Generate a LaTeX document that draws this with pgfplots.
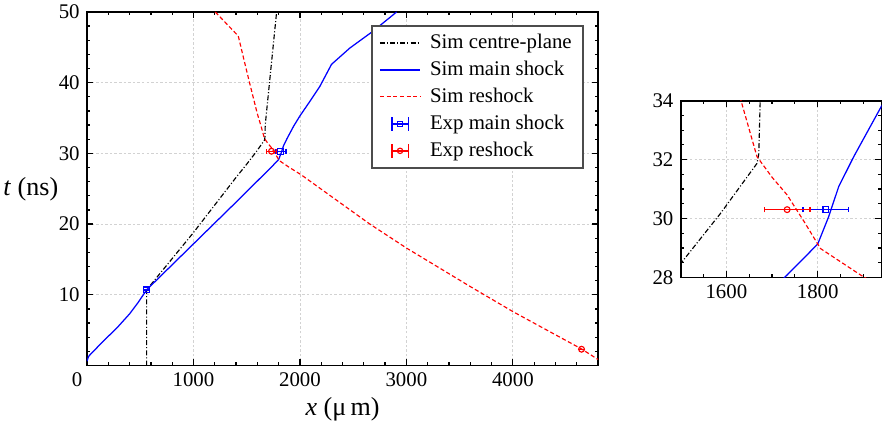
\documentclass[border=0pt]{standalone}
\usepackage{fontspec}
\setmainfont{Liberation Serif}
\usepackage{pgfplots}
\pgfplotsset{compat=1.18}

% simulated trajectories, x in micron, t in ns
\pgfplotstableread{
x t
560 0
560 10.7
1000 18.8
1400 26.6
1503 28.53
1587 30.17
1667 31.87
1671 32.2
1674 34.0
1781 50.0
}\centreplane
\pgfplotstableread{
x t
0 0.6
15 1.3
60 2.0
150 3.4
280 5.3
400 7.3
480 8.9
560 10.7
1000 17.2
1400 23.1
1733 28.08
1800 29.13
1824 30.06
1846 31.08
1879 32.1
1941 33.85
2000 35.3
2100 37.5
2188 39.5
2297 42.6
2469 44.9
2688 47.3
2908 50.0
}\mainshock
\pgfplotstableread{
x t
1205 50.0
1300 48.5
1421 46.6
1470 43.5
1530 39.8
1600 35.6
1632 34.0
1667 32.1
1700 31.4
1733 30.8
1770 29.9
1806 28.98
1894 28.08
2009 27.0
2657 20.0
3002 16.6
3596 11.2
4003 7.6
4645 2.34
4800 0.85
}\reshock

\pgfplotsset{
  myframe/.style={
    scale only axis,
    axis line style={line width=0.8pt},
    tick style={black, line width=0.6pt},
    major tick length=3pt,
    minor tick length=1.6pt,
    grid=major,
    major grid style={gray!35, line width=0.4pt, dash pattern=on 1.2pt off 1pt},
    tick label style={font=\fontsize{10}{12}\selectfont},
    /pgf/number format/assume math mode=true,
    /pgf/number format/1000 sep={},
  },
  simcp/.style={black, line width=0.55pt, dash pattern=on 2.4pt off 1pt on 0.5pt off 1pt},
  simms/.style={blue, line width=0.6pt},
  simrs/.style={red, line width=0.55pt, dash pattern=on 2pt off 1.2pt},
  expbar/.style={
    only marks, line width=0.55pt, mark size=1.4pt,
    error bars/.cd, x dir=both, x explicit,
    error bar style={line width=0.65pt},
    error mark options={rotate=90, mark size=1.3pt, line width=0.65pt},
  },
}

\begin{document}
\begin{tikzpicture}
\begin{axis}[
  myframe,
  width=245.3pt, height=169.7pt,
  xmin=0, xmax=4800, ymin=0, ymax=50,
  xtick={0,1000,2000,3000,4000},
  xticklabels={\makebox[5pt]{\hspace{-4.8pt}0\hspace{4.8pt}},1000,2000,3000,4000},
  minor xtick={200,400,...,4600},
  ytick={10,20,30,40,50},
  minor ytick={2,4,...,48},
  xlabel={\fontsize{12.5}{15}\selectfont\textit{x} (μ\,m)},
  ylabel={\fontsize{12.5}{15}\selectfont\textit{t} (ns)},
  every axis y label/.style={at={(axis description cs:0,0.5)}, anchor=east,
    inner sep=0pt, xshift=-13.6pt},
  xlabel style={yshift=2pt},
  legend style={at={(0.9726,0.963)}, anchor=north east,
    draw=black!70, line width=0.8pt, font=\fontsize{10}{12}\selectfont,
    row sep=0.5pt, column sep=2.4pt, inner xsep=3.5pt, inner ysep=2pt},
  legend cell align=left,
  legend image code/.code={\draw[mark repeat=2, mark phase=2, #1]
    plot coordinates {(0cm,0cm) (0.34cm,0cm) (0.68cm,0cm)};},
]
\addplot[simcp] table[x=x, y=t] {\centreplane};
\addlegendentry{Sim centre-plane}
\addplot[simms] table[x=x, y=t] {\mainshock};
\addlegendentry{Sim main shock}
\addplot[simrs] table[x=x, y=t] {\reshock};
\addlegendentry{Sim reshock}
\addplot[blue, mark=square,
  legend image code/.code={
    \draw[blue, line width=0.65pt, |-|] (0.19cm,0cm) -- (0.49cm,0cm);
    \draw[blue, line width=0.55pt] plot[mark=square, mark size=1.3pt] coordinates {(0.34cm,0cm)};},
  expbar]
  coordinates {(560,10.7) +- (0,0) (1818,30.3) +- (50,0)};
\addlegendentry{Exp main shock}
\addplot[red, mark=o,
  legend image code/.code={
    \draw[red, line width=0.65pt, |-|] (0.19cm,0cm) -- (0.49cm,0cm);
    \draw[red, line width=0.55pt] plot[mark=o, mark size=1.3pt] coordinates {(0.34cm,0cm)};},
  expbar]
  coordinates {(1733,30.3) +- (50,0) (4645,2.3) +- (0,0)};
\addlegendentry{Exp reshock}
\end{axis}

\begin{axis}[
  myframe,
  at={(285pt,42.3pt)}, anchor=south west,
  width=96.4pt, height=84.8pt,
  xmin=1500, xmax=1940, ymin=28, ymax=34,
  xtick={1600,1800},
  minor xtick={1550,1650,1700,1750,1850,1900},
  ytick={28,30,32,34},
  minor ytick={28.5,29,29.5,30.5,31,31.5,32.5,33,33.5},
]
\addplot[simcp] table[x=x, y=t] {\centreplane};
\addplot[simms] table[x=x, y=t] {\mainshock};
\addplot[simrs] table[x=x, y=t] {\reshock};
\addplot[blue, mark=square, expbar]
  coordinates {(1818,30.3) +- (50,0)};
\addplot[red, mark=o, expbar]
  coordinates {(1733,30.3) +- (50,0)};
\end{axis}
\pgfresetboundingbox
\path[use as bounding box] (-41.76pt,-28.56pt) rectangle (381.6pt,175.44pt);
\end{tikzpicture}
\end{document}
